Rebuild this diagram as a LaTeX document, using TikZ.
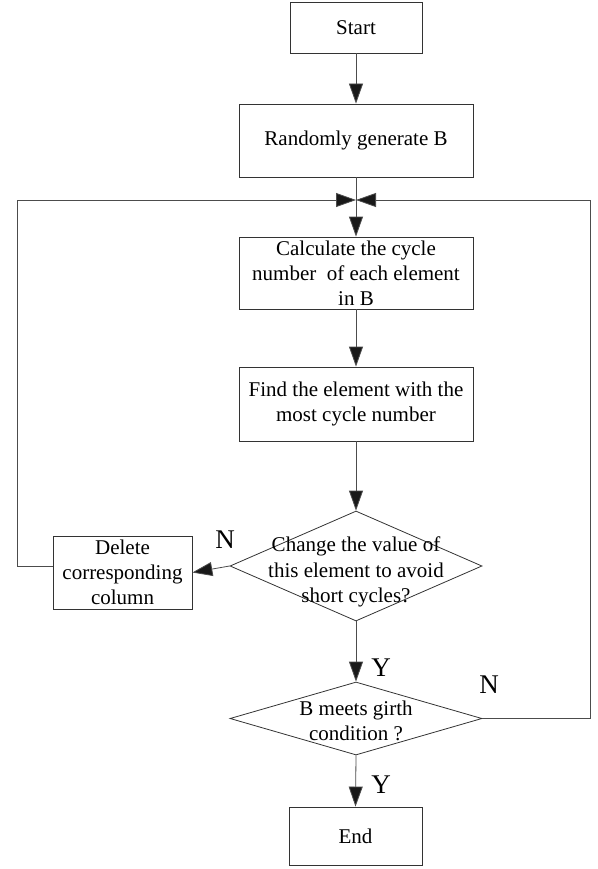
\documentclass[tikz,border=0pt]{standalone}
\usepackage{fontspec}
\setmainfont{Liberation Serif}
\usetikzlibrary{arrows.meta,shapes.geometric,calc}

\tikzset{
  box/.style={draw=black!80, line width=0.8pt, rectangle, inner sep=0pt,
    align=center, font=\fontsize{21}{25}\selectfont},
  decision/.style={draw=black!80, line width=0.8pt, diamond, inner sep=0pt,
    minimum width=252pt, minimum height=110pt},
  dtext/.style={align=center, inner sep=0pt, font=\fontsize{21}{25.5}\selectfont},
  flow/.style={draw=black!70, line width=0.8pt,
    -{Triangle[length=20pt,width=14pt,fill=black!90]}},
  wire/.style={draw=black!70, line width=0.8pt},
  yn/.style={inner sep=0pt, font=\fontsize{27}{30}\selectfont},
}

\begin{document}
\begin{tikzpicture}[x=1pt,y=-1pt]
  \useasboundingbox (0,0) rectangle (597,869);

  % process boxes
  \node[box, minimum width=132pt, minimum height=51pt] (start) at (356,27.5) {Start};
  \node[box, minimum width=234pt, minimum height=73pt] (rand) at (356,140.5) {Randomly generate B};
  \node[box, minimum width=234pt, minimum height=72pt] (calc) at (356,273)
    {Calculate the cycle\\number~ of each element\\in B};
  \node[box, minimum width=234pt, minimum height=74pt] (find) at (356,404)
    {Find the element with the\\most cycle number};
  \node[box, minimum width=139pt, minimum height=73pt] (del) at (122.5,572.5)
    {Delete\\corresponding\\column};
  \node[box, minimum width=133pt, minimum height=58pt] (end) at (355.5,836) {End};

  % decisions
  \node[decision] (d1) at (356,566) {};
  \node[dtext] (d1t) at (356,572) {Change the value of\\this element to avoid\\short cycles?};
  \node[decision, minimum height=73pt] (d2) at (356,718.5) {};
  \node[dtext] (d2t) at (356,721) {B meets girth\\condition ?};

  % loop-back junction
  \coordinate (j) at (356,200);
  \coordinate (lc) at (17,200);
  \coordinate (rc) at (590,200);

  % main flow
  \draw[flow] (start.south) -- (rand.north);
  \draw[flow] (rand.south) -- (calc.north);
  \draw[flow] (calc.south) -- (find.north);
  \draw[flow] (find.south) -- (d1.north);
  \draw[flow] (d1.west) -- (del.east);
  \draw[flow] (d1.south) -- (d2.north);
  \draw[flow] (d2.south) -- (end.north);

  % loops back to the top
  \draw[wire] (del.west |- d1.west) -- (lc |- d1.west) -- (lc);
  \draw[flow] (lc) -- (j);
  \draw[wire] (d2.east) -- (rc |- d2.east) -- (rc);
  \draw[flow] (rc) -- (j);

  % branch labels
  \node[yn] (n1) at (225,540) {N};
  \node[yn] (y1) at (381,668) {Y};
  \node[yn] (n2) at (489,685) {N};
  \node[yn] (y2) at (381,785) {Y};
\end{tikzpicture}
\end{document}
